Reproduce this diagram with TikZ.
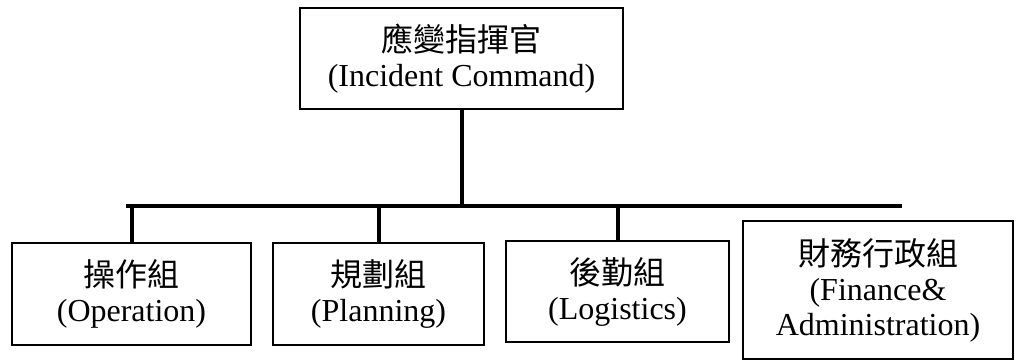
\documentclass[tikz,border=0pt]{standalone}
\usepackage{fontspec}
\setmainfont{Liberation Serif}
\newfontfamily\cjk{Noto Sans CJK TC}
\begin{document}
\begin{tikzpicture}[x=1pt,y=-1pt,
  orgbox/.style={draw=black,line width=1.8pt,inner sep=0pt,align=center,
    font=\fontsize{32}{35}\selectfont},
  link/.style={line width=4pt}]
\useasboundingbox (0,0) rectangle (1018,361);
\node[orgbox,minimum width=323pt,minimum height=101pt] (top) at (461.5,58.5)
  {{\cjk 應變指揮官}\\(Incident Command)};
\node[orgbox,minimum width=239pt,minimum height=102pt] (op) at (131.5,294)
  {{\cjk 操作組}\\(Operation)};
\node[orgbox,minimum width=211pt,minimum height=102pt] (pl) at (378.5,294)
  {{\cjk 規劃組}\\(Planning)};
\node[orgbox,minimum width=223pt,minimum height=101pt] (lg) at (617.5,291.5)
  {{\cjk 後勤組}\\(Logistics)};
\node[orgbox,minimum width=270pt,minimum height=138pt] (fa) at (878,290)
  {{\cjk 財務行政組}\\(Finance\&\\Administration)};
\coordinate (barL) at (126,206);
\coordinate (barR) at (902,206);
\draw[link] (barL) -- (barR);
\draw[link] (top.south) -- (top.south |- barL);
\draw[link] (op.north) -- (op.north |- barL);
\draw[link] (pl.north) -- (pl.north |- barL);
\draw[link] (lg.north) -- (lg.north |- barL);
\end{tikzpicture}
\end{document}
